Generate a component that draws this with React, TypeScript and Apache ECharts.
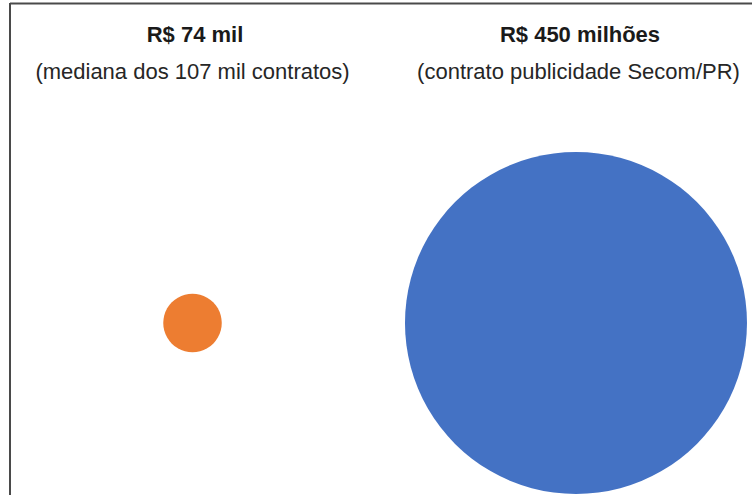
import React, { useEffect, useRef } from "react";
import * as echarts from "echarts";

const categories = ["Mediana dos contratos", "Contrato publicidade Secom/PR"];
const values = [74000, 450000000];
const valueLabels = ["R$ 74 mil", "R$ 450 milhões"];
const subLabels = ["(mediana dos 107 mil contratos)", "(contrato publicidade Secom/PR)"];

const COLORS = ["#ED7D31", "#4472C4"];
const DIAMETERS = [58.5, 342];

export default function App() {
  const ref = useRef<HTMLDivElement>(null);
  useEffect(() => {
    if (!ref.current) return;
    const chart = echarts.init(ref.current, null, { renderer: "svg" });
    const W = 752;
    const font = "'Liberation Sans', Arial, sans-serif";
    const texts: any[] = [];
    categories.forEach((_, i) => {
      texts.push({
        type: "text",
        x: i === 0 ? 195 : 580,
        y: 34.5,
        style: {
          text: valueLabels[i],
          font: `bold 22px ${font}`,
          fill: "#1a1a1a",
          align: "center",
          verticalAlign: "middle",
        },
      });
      texts.push({
        type: "text",
        x: i === 0 ? 192.5 : 578.5,
        y: 71.5,
        style: {
          text: subLabels[i],
          font: `22px ${font}`,
          fill: "#262626",
          align: "center",
          verticalAlign: "middle",
        },
      });
    });
    chart.setOption({
      animation: false,
      backgroundColor: "#ffffff",
      grid: { left: 0, right: 0, top: 151, height: 344 },
      xAxis: { type: "value", min: -0.502, max: 1.459, show: false },
      yAxis: { type: "category", data: [""], show: false },
      series: [
        {
          type: "scatter",
          silent: true,
          data: values.map((v, i) => ({
            name: categories[i],
            value: [i, 0, v],
            symbolSize: DIAMETERS[i],
            itemStyle: { color: COLORS[i], opacity: 1 },
          })),
        },
      ],
      graphic: [
        {
          type: "line",
          shape: { x1: 10, y1: 3.5, x2: W, y2: 3.5 },
          style: { stroke: "#4a4a4a", lineWidth: 2 },
        },
        {
          type: "line",
          shape: { x1: 10, y1: 3, x2: 10, y2: 495 },
          style: { stroke: "#4a4a4a", lineWidth: 2 },
        },
        ...texts,
      ],
    });
    return () => chart.dispose();
  }, []);
  return (
    <div
      ref={ref}
      style={{ position: "fixed", left: 0, top: 0, width: 752, height: 495 }}
    />
  );
}
